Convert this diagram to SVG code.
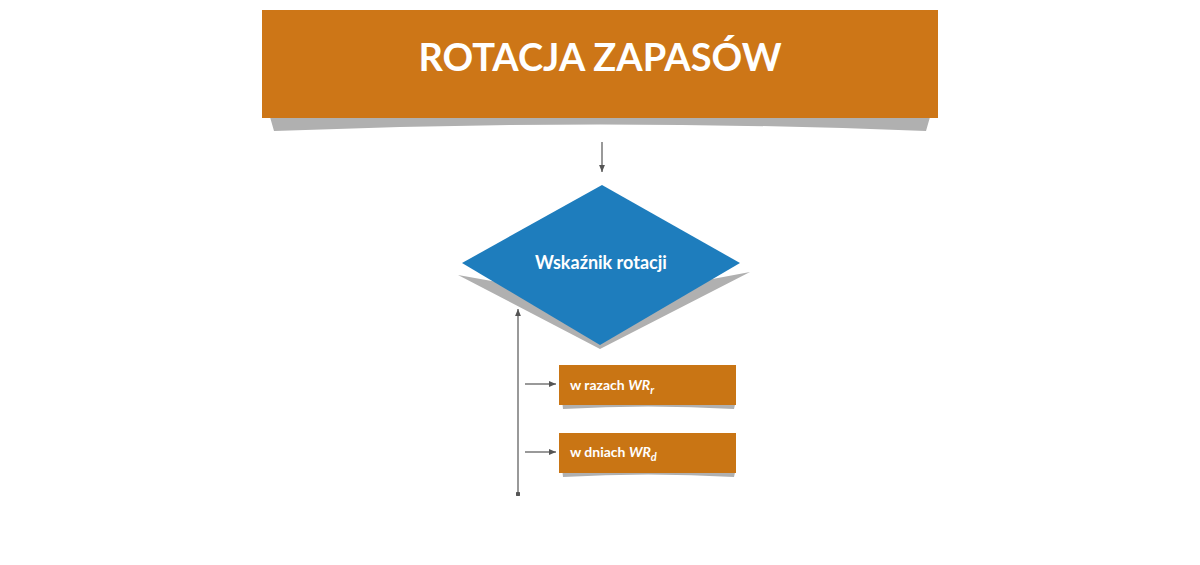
<svg xmlns="http://www.w3.org/2000/svg" width="1200" height="565" viewBox="0 0 1200 565">
<defs>
<style>
.lbl{font-family:Lato,"Liberation Sans",sans-serif;fill:#fff}
.ln{stroke:#555;stroke-width:1.2;fill:none}
.sh{fill:#b0b0b0}
.box{fill:#c97514}
</style>
<marker id="ah" viewBox="0 0 6 6" refX="6" refY="3" markerWidth="6" markerHeight="6" orient="auto"><path d="M0,0.5L6,3L0,5.5z" fill="#555"/></marker>
<marker id="dot" viewBox="0 0 4 4" refX="2" refY="2" markerWidth="4" markerHeight="4"><circle cx="2" cy="2" r="2" fill="#555"/></marker>
</defs>
<rect width="1200" height="565" fill="#fff"/>
<g id="title">
<path class="sh" d="M268,110 L932,110 L926,131 Q600,118 274,131 Z"/>
<rect x="262" y="10" width="676" height="108" fill="#cd7617"/>
<text class="lbl" x="600" y="71" text-anchor="middle" font-size="38" font-weight="bold">ROTACJA ZAPASÓW</text>
</g>
<g id="decision">
<path class="sh" d="M458,275 L600,349 L750,272 L600,300 Z"/>
<path d="M602,185 L740,263 L600,345 L462,263 Z" fill="#1e7dbd"/>
<text class="lbl" x="601" y="269" text-anchor="middle" font-size="18" font-weight="bold">Wskaźnik rotacji</text>
</g>
<g id="wr_r">
<path class="sh" d="M562,400 L736,400 L734,409 Q648,404 563,409 Z"/>
<rect class="box" x="559" y="365" width="177" height="40"/>
<text class="lbl" x="570" y="390" font-size="14" font-weight="bold">w razach <tspan font-style="italic">WR</tspan><tspan font-style="italic" font-size="11" dy="4">r</tspan></text>
</g>
<g id="wr_d">
<path class="sh" d="M562,468 L736,468 L734,477 Q648,472 563,477 Z"/>
<rect class="box" x="559" y="433" width="177" height="40"/>
<text class="lbl" x="570" y="457" font-size="14" font-weight="bold">w dniach <tspan font-style="italic">WR</tspan><tspan font-style="italic" font-size="11" dy="4">d</tspan></text>
</g>
<g id="connectors">
<line class="ln" x1="602" y1="142" x2="602" y2="172" marker-end="url(#ah)"/>
<line class="ln" x1="518" y1="494" x2="518" y2="309" marker-start="url(#dot)" marker-end="url(#ah)"/>
<line class="ln" x1="525" y1="384" x2="556" y2="384" marker-end="url(#ah)"/>
<line class="ln" x1="525" y1="452" x2="556" y2="452" marker-end="url(#ah)"/>
</g>
</svg>
